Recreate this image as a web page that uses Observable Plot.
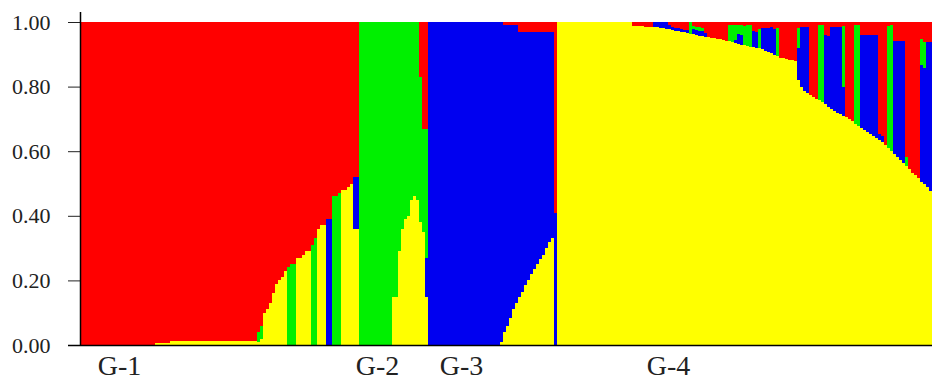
<!DOCTYPE html>
<html><head><meta charset="utf-8">
<script src="https://cdn.jsdelivr.net/npm/d3@7"></script>
<script src="https://cdn.jsdelivr.net/npm/@observablehq/plot@0.6"></script>
<style>
body{margin:0;background:#fff;}
[aria-label^="x-axis"] text{font-size:28px !important;}
</style>
</head><body><div id="chart"></div>
<script>
const groups = ["G-1", "G-2", "G-3", "G-4"];
const clusters = ["K-yellow", "K-blue", "K-green", "K-red"];   // stacking order, bottom to top
const clusterColors = ["#ffff00", "#0000f0", "#00f000", "#ff0000"];
const yTicks = [0, 0.2, 0.4, 0.6, 0.8, 1];

// membership coefficients per individual (red is the remainder so each bar sums to 1)
const g1Yellow = [
 0,0,0,0,0,0,0,0,0,0,
 0,0,0,0,0,0,0,0,0,0,
 0,0,0,0,0,.005,.005,.005,.005,.005,
 .012,.012,.012,.012,.012,.012,.012,.012,.012,.012,
 .012,.012,.012,.012,.012,.012,.012,.012,.012,.012,
 .012,.012,.012,.012,.012,.012,.012,.012,.012,.01,
 .02,.10,.11,.13,.16,.19,.20,.21,.23,0,
 0,0,.27,.27,.28,.29,.29,0,0,.36,
 .37,.37,0,0,0,0,0,.48,.48,.49,
 .50,.36,.36];
const g1Blue = [
 0,0,0,0,0,0,0,0,0,0, 0,0,0,0,0,0,0,0,0,0,
 0,0,0,0,0,0,0,0,0,0, 0,0,0,0,0,0,0,0,0,0,
 0,0,0,0,0,0,0,0,0,0, 0,0,0,0,0,0,0,0,0,0,
 0,0,0,0,0,0,0,0,0,0, 0,0,0,0,0,0,0,0,0,0,
 0,0,.39,.39,0,0,0,0,0,0,
 0,.16,.16];
const g1Green = [
 0,0,0,0,0,0,0,0,0,0, 0,0,0,0,0,0,0,0,0,0,
 0,0,0,0,0,0,0,0,0,0, 0,0,0,0,0,0,0,0,0,0,
 0,0,0,0,0,0,0,0,0,0,
 0,0,0,0,0,0,0,0,0,.03,
 .04,0,0,0,0,0,0,0,0,.24,
 .25,.25,0,0,0,0,0,.31,.33,0,
 0,0,0,0,.46,.46,.47,0,0,0,
 0,0,0];

const g2Yellow = [0,0,0,0,0,0,0,0,0,0,0, .15,.15,.29,.36,.39,.40,.45,.46,.45,.38,.35,.15];
const g2Blue   = [0,0,0,0,0,0,0,0,0,0,0, 0,0,0,0,0,0,0,0,0,0,0,.12];
const g2Green  = [1,1,1,1,1,1,1,1,1,1,1, .85,.85,.71,.64,.61,.60,.55,.54,.55,.45,.32,.40];

const g3Yellow = [
 0,0,0,0,0,0,0,0,0,0, 0,0,0,0,0,0,0,0,0,0, 0,0,0,0,
 .01,.04,.06,.085,.11,.13,.15,.165,.185,.20,.22,.235,.25,.265,.28,.30,.32,.33,0];
const g3Blue = [
 1,1,1,1,1,1,1,1,1,1, 1,1,1,1,1,1,1,1,1,1, 1,1,1,1,
 .99,.95,.93,.905,.88,.86,.82,.805,.785,.77,.75,.735,.72,.705,.69,.67,.65,.64,.41];
const g3Green = [
 0,0,0,0,0,0,0,0,0,0, 0,0,0,0,0,0,0,0,0,0, 0,0,0,0,
 0,0,0,0,0,0,0,0,0,0, 0,0,0,0,0,0,0,0,0];

const g4Yellow = [
 1,1,1,1,1,1,1,1,1,1, 1,1,1,1,1,1,1,1,1,1, 1,1,1,1,1,
 .989,.988,.988,.987,.986,.986,.985,.984,.983,.982,
 .980,.979,.977,.975,.973,.972,.970,.968,.966,.964,
 .962,.960,.958,.956,.955,.953,.951,.949,.947,.946,
 .944,.942,.940,.937,.935,.932,.930,.928,.926,.924,
 .922,.920,.918,.915,.911,.907,.903,.899,.895,.890,
 .887,.885,.883,.881,.879,.82,.80,.785,.780,.775,
 .768,.762,.757,.752,.745,.738,.731,.724,.719,.714,
 .709,.705,.699,.692,.684,.678,.672,.667,.660,.654,
 .647,.640,.634,.627,.618,.609,.600,.591,.581,.572,
 .562,.553,.544,.534,.525,.516,.506,.497,.488,.478];
const g4Blue = [
 0,0,0,0,0,0,0,0,0,0, 0,0,0,0,0,0,0,0,0,0, 0,0,0,0,0,
 0,0,0,0,0,0,0,.016,.017,.018,
 .02,.021,.015,.008,.008,.008,.008,.008,.008,0,
 .015,.015,.015,.015,.012,0,0,0,0,0,
 0,0,0,0,.01,.03,.03,0,0,0,
 .05,.05,0,.065,.07,.075,.08,.08,0,0,
 0,0,0,0,0,.10,.185,.20,.205,0,
 0,0,0,0,.215,.22,.254,.26,.266,.27,
 .09,0,0,0,0,0,.288,.293,.30,.306,
 .313,.32,.02,.02,0,0,0,.35,.36,.37,
 .38,0,0,0,0,0,.36,.36,.45,.46];
const g4Green = [
 0,0,0,0,0,0,0,0,0,0, 0,0,0,0,0,0,0,0,0,0, 0,0,0,0,0,
 0,0,0,0,0,0,0,0,0,0,
 0,0,0,0,0,0,0,0,0,.036,
 .01,.01,.01,.01,0,0,0,0,0,0,
 0,0,.05,.053,.045,.028,.03,.06,.064,.066,
 0,0,.06,0,0,0,0,0,.085,0,
 0,0,0,0,0,.06,0,0,0,0,
 0,0,.233,.238,0,0,0,0,0,0,
 .19,0,0,0,.306,.312,0,0,0,0,
 0,0,0,0,0,.38,.39,0,0,0,
 0,.03,0,0,0,0,.08,.08,0,0];

const groupData = [
  {name: groups[0], yellow: g1Yellow, blue: g1Blue, green: g1Green},
  {name: groups[1], yellow: g2Yellow, blue: g2Blue, green: g2Green},
  {name: groups[2], yellow: g3Yellow, blue: g3Blue, green: g3Green},
  {name: groups[3], yellow: g4Yellow, blue: g4Blue, green: g4Green}
];

const rows = [];
let idx = 0;
for (const g of groupData) {
  g.yellow.forEach((yv, j) => {
    const bv = g.blue[j], gv = g.green[j];
    const rv = Math.max(0, 1 - yv - bv - gv);
    [yv, bv, gv, rv].forEach((q, c) => {
      if (q > 0) rows.push({i: idx, k: clusters[c], q, group: g.name});
    });
    idx++;
  });
}
const N = idx;

const chart = Plot.plot({
  width: 932, height: 387,
  marginLeft: 80, marginRight: 0, marginTop: 22, marginBottom: 42,
  style: {fontFamily: "'Liberation Serif','DejaVu Serif',serif", fontSize: "22px", color: "#222", background: "#fff"},
  x: {domain: [0, N], ticks: [13, 99, 127, 196], tickFormat: (d, i) => groups[i], tickSize: 0, tickPadding: 10, label: null},
  y: {domain: [0, 1], ticks: yTicks, tickFormat: d3.format(".2f"), tickSize: 12, tickPadding: 18, label: null},
  color: {type: "ordinal", domain: clusters, range: clusterColors},
  marks: [
    Plot.rectY(rows, {x1: "i", x2: d => d.i + 1, y: "q", fill: "k", order: clusters, shapeRendering: "crispEdges"}),
    Plot.ruleX([0], {stroke: "#000", strokeWidth: 1.5, insetTop: -10}),
    Plot.ruleY([0], {stroke: "#000", strokeWidth: 1.5, insetLeft: -12})
  ]
});
document.getElementById("chart").appendChild(chart);
</script>
</body></html>
